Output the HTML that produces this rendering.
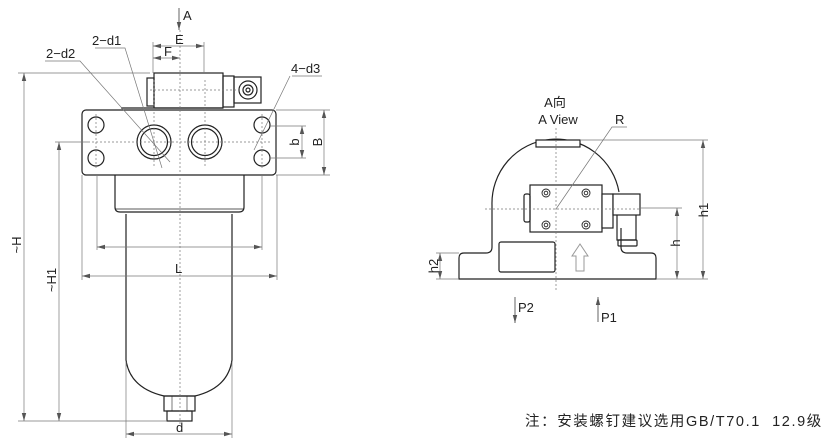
<!DOCTYPE html>
<html><head><meta charset="utf-8"><style>
html,body{margin:0;padding:0;background:#fff;width:840px;height:441px;overflow:hidden}
svg{display:block}
text{font-family:"Liberation Sans","Noto Sans CJK SC",sans-serif;fill:#222}
</style></head><body>
<svg width="840" height="441" viewBox="0 0 840 441" xmlns="http://www.w3.org/2000/svg">
<defs>
<marker id="ar" markerWidth="8" markerHeight="6" refX="8" refY="3" orient="auto" markerUnits="userSpaceOnUse"><path d="M0,0.8 L8,3 L0,5.2z" fill="#555"/></marker>
<marker id="al" markerWidth="8" markerHeight="6" refX="0" refY="3" orient="auto" markerUnits="userSpaceOnUse"><path d="M8,0.8 L0,3 L8,5.2z" fill="#555"/></marker>
</defs>
<g fill="none" stroke="#222" stroke-width="1.2">
<rect x="82" y="110" width="194" height="65" rx="4"/>
<circle cx="96" cy="125" r="8"/><circle cx="96" cy="158" r="8"/>
<circle cx="262" cy="125" r="8"/><circle cx="262" cy="158" r="8"/>
<circle cx="154" cy="142" r="17"/><circle cx="154" cy="142" r="13.5"/>
<circle cx="205" cy="142" r="17"/><circle cx="205" cy="142" r="13.5"/>
<rect x="154" y="73" width="69" height="35"/>
<rect x="147" y="78" width="7" height="28"/>
<rect x="223" y="76" width="11" height="31"/>
<rect x="234" y="77" width="27" height="26"/>
<circle cx="248" cy="90" r="9"/><circle cx="248" cy="90" r="5"/><circle cx="248" cy="90" r="2"/>
<line x1="121" y1="108" x2="223" y2="108"/>
<path d="M115,175 V207 Q115,212 120,212 H239 Q244,212 244,207 V175"/>
<line x1="115" y1="209" x2="244" y2="209" stroke-width="0.7"/>
<path d="M126,214 V360 Q130,388 164,396 H195 Q228,388 232,360 V214"/>
<rect x="164" y="396" width="31" height="15"/>
<rect x="167" y="411" width="25" height="10"/>
<line x1="172" y1="396" x2="172" y2="411" stroke-width="0.6"/><line x1="187" y1="396" x2="187" y2="411" stroke-width="0.6"/>
<path d="M619,192 A64,64 0 0 0 492,205 V247 Q492,253 486,253 H464 Q459,253 459,258 V279 H656 V258 Q656,253 651,253 H627 Q621,253 621,247 V228"/>
<rect x="536" y="140" width="44" height="7" fill="#fff"/>
<rect x="499" y="242" width="56" height="30" rx="2"/>
<rect x="530" y="185" width="72" height="47" fill="#fff"/>
<rect x="524" y="194" width="6" height="28" rx="2"/>
<rect x="602" y="194" width="11" height="34" fill="#fff"/>
<rect x="613" y="194" width="27" height="21" fill="#fff"/>
<path d="M617,215 V240 H636 V215"/>
<rect x="618" y="240" width="19" height="6" rx="1"/>
<g stroke-width="0.9"><circle cx="546" cy="193" r="4"/><circle cx="586" cy="193" r="4"/><circle cx="546" cy="225" r="4"/><circle cx="586" cy="225" r="4"/>
<circle cx="546" cy="193" r="1.8"/><circle cx="586" cy="193" r="1.8"/><circle cx="546" cy="225" r="1.8"/><circle cx="586" cy="225" r="1.8"/></g>
<path d="M576,271 V256 H572 L580,244 L588,256 H584 V271 Z" stroke="#999" stroke-width="1"/>
</g>
<g stroke="#777" stroke-width="0.7" stroke-dasharray="2,2" fill="none">
<line x1="180" y1="30" x2="180" y2="425"/>
<line x1="88" y1="142" x2="272" y2="142"/>
<line x1="154" y1="80" x2="154" y2="168"/><line x1="205" y1="80" x2="205" y2="168"/>
<line x1="96" y1="114" x2="96" y2="170"/><line x1="262" y1="114" x2="262" y2="170"/>
<line x1="150" y1="90" x2="242" y2="90"/>
<line x1="556" y1="128" x2="556" y2="290"/>
<line x1="485" y1="209" x2="640" y2="209"/>
</g>
<g stroke="#777" stroke-width="0.7" fill="none">
<line x1="179" y1="8" x2="179" y2="30" marker-end="url(#ar)" stroke="#222"/>
<line x1="153" y1="42" x2="153" y2="73"/><line x1="204" y1="42" x2="204" y2="73"/>
<line x1="153" y1="46" x2="204" y2="46" marker-start="url(#al)" marker-end="url(#ar)"/>
<line x1="153" y1="58" x2="180" y2="58" marker-start="url(#al)" marker-end="url(#ar)"/>
<line x1="18" y1="73" x2="150" y2="73"/>
<line x1="24" y1="73" x2="24" y2="421" marker-start="url(#al)" marker-end="url(#ar)"/>
<line x1="55" y1="142" x2="88" y2="142"/>
<line x1="59" y1="142" x2="59" y2="421" marker-start="url(#al)" marker-end="url(#ar)"/>
<line x1="18" y1="421" x2="167" y2="421"/>
<line x1="276" y1="110" x2="330" y2="110"/><line x1="276" y1="175" x2="330" y2="175"/>
<line x1="324" y1="110" x2="324" y2="175" marker-start="url(#al)" marker-end="url(#ar)"/>
<line x1="270" y1="126" x2="306" y2="126"/><line x1="270" y1="158" x2="306" y2="158"/>
<line x1="302" y1="126" x2="302" y2="158" marker-start="url(#al)" marker-end="url(#ar)"/>
<line x1="97" y1="175" x2="97" y2="250"/><line x1="262" y1="175" x2="262" y2="250"/>
<line x1="97" y1="247" x2="262" y2="247" marker-start="url(#al)" marker-end="url(#ar)"/>
<line x1="82" y1="175" x2="82" y2="280"/><line x1="277" y1="175" x2="277" y2="280"/>
<line x1="82" y1="276" x2="277" y2="276" marker-start="url(#al)" marker-end="url(#ar)"/>
<line x1="126" y1="362" x2="126" y2="438"/><line x1="232" y1="362" x2="232" y2="438"/>
<line x1="126" y1="434" x2="232" y2="434" marker-start="url(#al)" marker-end="url(#ar)"/>
<path d="M45,61 H80 L170,162"/><path d="M95,48 H125 L162,168"/><path d="M292,76 H322 M290,76 L254,150"/>
<line x1="580" y1="140" x2="708" y2="140"/><line x1="656" y1="279" x2="708" y2="279"/>
<line x1="703" y1="140" x2="703" y2="279" marker-start="url(#al)" marker-end="url(#ar)"/>
<line x1="640" y1="208" x2="682" y2="208"/>
<line x1="677" y1="208" x2="677" y2="279" marker-start="url(#al)" marker-end="url(#ar)"/>
<line x1="436" y1="253" x2="459" y2="253"/><line x1="436" y1="279" x2="459" y2="279"/>
<line x1="440" y1="253" x2="440" y2="279" marker-start="url(#al)" marker-end="url(#ar)"/>
<path d="M627,127 H612 L556,209"/>
<line x1="515" y1="297" x2="515" y2="323" stroke="#222" marker-end="url(#ar)"/>
<line x1="598" y1="322" x2="598" y2="297" stroke="#222" marker-end="url(#ar)"/>
</g>
<g font-size="13">
<text x="183" y="20">A</text>
<text x="175" y="44">E</text>
<text x="164" y="56">F</text>
<text x="92" y="45">2−d1</text>
<text x="46" y="58">2−d2</text>
<text x="291" y="73">4−d3</text>
<text x="175" y="273">L</text>
<text x="176" y="432">d</text>
<text transform="translate(299,142) rotate(-90)" text-anchor="middle">b</text>
<text transform="translate(322,142) rotate(-90)" text-anchor="middle">B</text>
<text transform="translate(21,245) rotate(-90)" text-anchor="middle">~H</text>
<text transform="translate(56,280) rotate(-90)" text-anchor="middle">~H1</text>
<text x="555" y="107" text-anchor="middle">A向</text>
<text x="558" y="124" text-anchor="middle">A View</text>
<text x="615" y="124">R</text>
<text transform="translate(708,210) rotate(-90)" text-anchor="middle">h1</text>
<text transform="translate(680,243) rotate(-90)" text-anchor="middle">h</text>
<text transform="translate(438,266) rotate(-90)" text-anchor="middle">h2</text>
<text x="518" y="312">P2</text>
<text x="601" y="322">P1</text>
<text x="525" y="426" font-size="14.5" letter-spacing="1.6" xml:space="preserve">注：安装螺钉建议选用GB/T70.1  12.9级</text>
</g>
</svg>
</body></html>
